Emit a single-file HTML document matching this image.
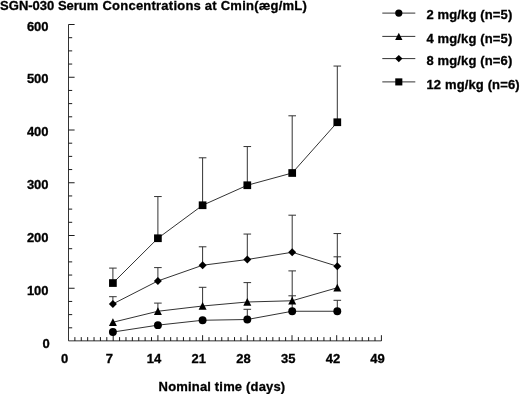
<!DOCTYPE html>
<html lang="en">
<head>
<meta charset="utf-8">
<title>SGN-030 Serum Concentrations at Cmin</title>
<style>
html,body{margin:0;padding:0;background:#fff;}
svg{display:block;will-change:transform;filter:blur(0.35px);}
.t text{font-family:"Liberation Sans",Arial,Helvetica,sans-serif;font-weight:bold;font-size:13px;fill:#000;stroke:#000;stroke-width:0.3px;}
</style>
</head>
<body>
<svg width="520" height="394" viewBox="0 0 520 394">
<rect width="520" height="394" fill="#fff"/>
<g stroke="#1c1c1c" stroke-width="1" fill="none">
<path d="M68.5,24.5 V340.85 H381.4" stroke-width="0.9"/>
<path d="M68.5,327.81 h3.7 M68.5,314.62 h3.7 M68.5,301.44 h3.7 M68.5,288.25 h6.1 M68.5,275.06 h3.7 M68.5,261.88 h3.7 M68.5,248.69 h3.7 M68.5,235.50 h6.1 M68.5,222.31 h3.7 M68.5,209.12 h3.7 M68.5,195.94 h3.7 M68.5,182.75 h6.1 M68.5,169.56 h3.7 M68.5,156.38 h3.7 M68.5,143.19 h3.7 M68.5,130.00 h6.1 M68.5,116.81 h3.7 M68.5,103.62 h3.7 M68.5,90.44 h3.7 M68.5,77.25 h6.1 M68.5,64.06 h3.7 M68.5,50.88 h3.7 M68.5,37.69 h3.7 M68.5,24.50 h6.1 M74.89,341.0 v-3.9 M81.27,341.0 v-3.9 M87.66,341.0 v-3.9 M94.04,341.0 v-3.9 M100.43,341.0 v-3.9 M106.81,341.0 v-3.9 M113.20,341.0 v-5.8 M119.59,341.0 v-3.9 M125.97,341.0 v-3.9 M132.36,341.0 v-3.9 M138.74,341.0 v-3.9 M145.13,341.0 v-3.9 M151.51,341.0 v-3.9 M157.90,341.0 v-5.8 M164.29,341.0 v-3.9 M170.67,341.0 v-3.9 M177.06,341.0 v-3.9 M183.44,341.0 v-3.9 M189.83,341.0 v-3.9 M196.21,341.0 v-3.9 M202.60,341.0 v-5.8 M208.99,341.0 v-3.9 M215.37,341.0 v-3.9 M221.76,341.0 v-3.9 M228.14,341.0 v-3.9 M234.53,341.0 v-3.9 M240.91,341.0 v-3.9 M247.30,341.0 v-5.8 M253.69,341.0 v-3.9 M260.07,341.0 v-3.9 M266.46,341.0 v-3.9 M272.84,341.0 v-3.9 M279.23,341.0 v-3.9 M285.61,341.0 v-3.9 M292.00,341.0 v-5.8 M298.39,341.0 v-3.9 M304.77,341.0 v-3.9 M311.16,341.0 v-3.9 M317.54,341.0 v-3.9 M323.93,341.0 v-3.9 M330.31,341.0 v-3.9 M336.70,341.0 v-5.8 M343.09,341.0 v-3.9 M349.47,341.0 v-3.9 M355.86,341.0 v-3.9 M362.24,341.0 v-3.9 M368.63,341.0 v-3.9 M375.01,341.0 v-3.9 M381.40,341.0 v-5.8"/>
</g>
<g stroke="#333" stroke-width="1" fill="none">
<path d="M247.3,319.5 V309.3 M243.5,309.3 H251.1 M292.2,311.25 V295.8 M288.4,295.8 H296.0 M337.3,311.25 V300.3 M333.5,300.3 H341.1 M157.9,311.25 V303.1 M154.1,303.1 H161.7 M202.6,306.0 V287.3 M198.8,287.3 H206.4 M247.3,302.0 V282.6 M243.5,282.6 H251.1 M292.2,300.75 V270.9 M288.4,270.9 H296.0 M337.3,287.75 V256.8 M333.5,256.8 H341.1 M112.9,303.95 V296.7 M109.1,296.7 H116.7 M157.9,280.95 V267.6 M154.1,267.6 H161.7 M202.6,265.25 V246.8 M198.8,246.8 H206.4 M247.3,259.5 V234.05 M243.5,234.05 H251.1 M292.2,252.25 V215.2 M288.4,215.2 H296.0 M337.3,266.25 V233.55 M333.5,233.55 H341.1 M112.9,283.05 V268.1 M109.1,268.1 H116.7 M157.9,238.25 V196.55 M154.1,196.55 H161.7 M202.6,205.25 V157.8 M198.8,157.8 H206.4 M247.3,185.25 V146.55 M243.5,146.55 H251.1 M292.2,173.0 V115.8 M288.4,115.8 H296.0 M337.3,122.25 V66.05 M333.5,66.05 H341.1"/>
<polyline points="112.9,332.05 157.9,325.15 202.6,320.25 247.3,319.5 292.2,311.25 337.3,311.25"/>
<polyline points="112.9,322.25 157.9,311.25 202.6,306.0 247.3,302.0 292.2,300.75 337.3,287.75"/>
<polyline points="112.9,303.95 157.9,280.95 202.6,265.25 247.3,259.5 292.2,252.25 337.3,266.25"/>
<polyline points="112.9,283.05 157.9,238.25 202.6,205.25 247.3,185.25 292.2,173.0 337.3,122.25"/>
<path d="M382.3,13.1 H415.3"/>
<path d="M382.3,36.4 H415.3"/>
<path d="M382.3,58.6 H415.3"/>
<path d="M382.3,81.9 H415.3"/>
</g>
<g fill="#000">
<circle cx="112.9" cy="332.05" r="3.95"/>
<circle cx="157.9" cy="325.15" r="3.95"/>
<circle cx="202.6" cy="320.25" r="3.95"/>
<circle cx="247.3" cy="319.5" r="3.95"/>
<circle cx="292.2" cy="311.25" r="3.95"/>
<circle cx="337.3" cy="311.25" r="3.95"/>
<polygon points="112.9,318.35 116.9,326.05 108.9,326.05"/>
<polygon points="157.9,307.35 161.9,315.05 153.9,315.05"/>
<polygon points="202.6,302.10 206.6,309.80 198.6,309.80"/>
<polygon points="247.3,298.10 251.3,305.80 243.3,305.80"/>
<polygon points="292.2,296.85 296.2,304.55 288.2,304.55"/>
<polygon points="337.3,283.85 341.3,291.55 333.3,291.55"/>
<polygon points="112.9,299.95 116.9,303.95 112.9,307.95 108.9,303.95"/>
<polygon points="157.9,276.95 161.9,280.95 157.9,284.95 153.9,280.95"/>
<polygon points="202.6,261.25 206.6,265.25 202.6,269.25 198.6,265.25"/>
<polygon points="247.3,255.5 251.3,259.5 247.3,263.5 243.3,259.5"/>
<polygon points="292.2,248.25 296.2,252.25 292.2,256.25 288.2,252.25"/>
<polygon points="337.3,262.25 341.3,266.25 337.3,270.25 333.3,266.25"/>
<rect x="109.05" y="279.2" width="7.7" height="7.7"/>
<rect x="154.05" y="234.4" width="7.7" height="7.7"/>
<rect x="198.75" y="201.4" width="7.7" height="7.7"/>
<rect x="243.45" y="181.4" width="7.7" height="7.7"/>
<rect x="288.35" y="169.15" width="7.7" height="7.7"/>
<rect x="333.45" y="118.4" width="7.7" height="7.7"/>
<circle cx="398.8" cy="13.1" r="3.63"/>
<polygon points="398.8,32.81 402.48,39.90 395.12,39.90"/>
<polygon points="398.8,54.92 402.48,58.6 398.8,62.28 395.12,58.6"/>
<rect x="395.26" y="78.36" width="7.08" height="7.08"/>
</g>
<g class="t">
<text x="0.1" y="10">SGN-030 Serum <tspan dx="0.5" letter-spacing="0.23">Concentrations at Cmin(æg/mL)</tspan></text>
<text x="49.8" y="348.0" text-anchor="end">0</text>
<text x="48.6" y="295.0" text-anchor="end">100</text>
<text x="48.6" y="242.0" text-anchor="end">200</text>
<text x="48.6" y="189.0" text-anchor="end">300</text>
<text x="48.6" y="136.0" text-anchor="end">400</text>
<text x="48.6" y="83.0" text-anchor="end">500</text>
<text x="48.6" y="31.0" text-anchor="end">600</text>
<text x="64.7" y="363" text-anchor="middle">0</text>
<text x="109.4" y="363" text-anchor="middle">7</text>
<text x="154.1" y="363" text-anchor="middle">14</text>
<text x="198.8" y="363" text-anchor="middle">21</text>
<text x="243.5" y="363" text-anchor="middle">28</text>
<text x="288.2" y="363" text-anchor="middle">35</text>
<text x="332.9" y="363" text-anchor="middle">42</text>
<text x="377.6" y="363" text-anchor="middle">49</text>
<text x="158.6" y="390.6" letter-spacing="0.17">Nominal time (days)</text>
<text x="426.5" y="19" letter-spacing="0.13">2 mg/kg (n=5)</text>
<text x="426.5" y="43" letter-spacing="0.13">4 mg/kg (n=5)</text>
<text x="426.5" y="65" letter-spacing="0.13">8 mg/kg (n=6)</text>
<text x="426.5" y="89" letter-spacing="0.13">12 mg/kg (n=6)</text>
</g>
</svg>
</body>
</html>
